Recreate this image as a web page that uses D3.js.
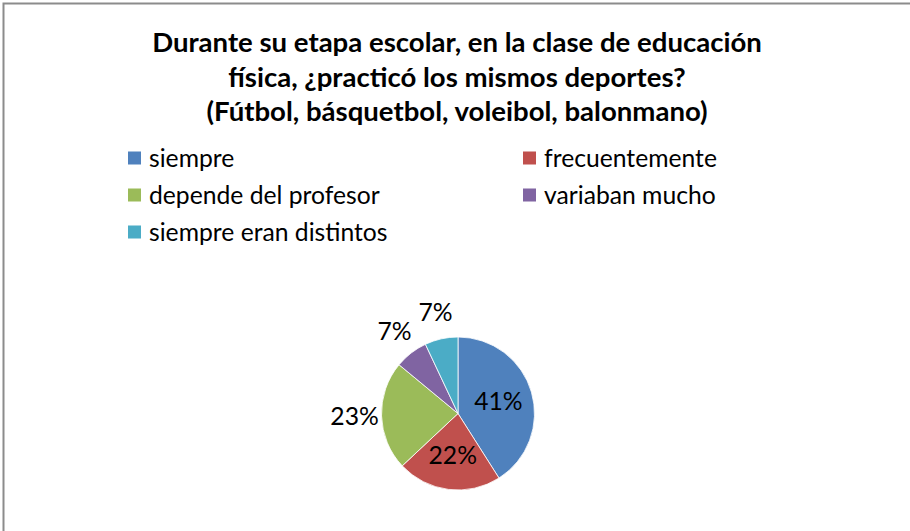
<!DOCTYPE html>
<html>
<head>
<meta charset="utf-8">
<script src="https://cdn.jsdelivr.net/npm/d3@7"></script>
<style>
  body { margin: 0; background: #fff; }
  svg text { font-family: Lato, "Open Sans", sans-serif; fill: #000; }
</style>
</head>
<body>
<svg width="910" height="531"></svg>
<script>
// data
var titleLines = ["Durante su etapa escolar, en la clase de educación",
                  "física, ¿practicó los mismos deportes?",
                  "(Fútbol, básquetbol, voleibol, balonmano)"];
var categories = ["siempre", "frecuentemente", "depende del profesor",
                  "variaban mucho", "siempre eran distintos"];
var values = [41, 22, 23, 7, 7];
var colors = ["#4F81BD", "#C0504D", "#9BBB59", "#8064A2", "#4BACC6"];
var outsideLabels = ["depende del profesor", "variaban mucho", "siempre eran distintos"];

var svg = d3.select("svg"),
    width = +svg.attr("width"),
    height = +svg.attr("height"),
    cx = 458, cy = 413.5, radius = 76.5;

// chart border (runs off the right and bottom edge like the screenshot)
svg.append("rect")
    .attr("x", 3.5).attr("y", 3.5)
    .attr("width", width + 10).attr("height", height + 10)
    .attr("fill", "none")
    .attr("stroke", "#8c8c8c")
    .attr("stroke-width", 2);

// fit a font size so that a text gets a given width
function fitSize(txt, target, weight) {
    var t = svg.append("text").style("font-size", "26px")
        .style("font-weight", weight).text(txt);
    var w = t.node().getComputedTextLength();
    t.remove();
    return 26 * target / w;
}
var titleSize = fitSize(titleLines[0], 610, "bold"),
    bodySize = fitSize("frecuentemente", 173, "normal");

// title
svg.append("g").selectAll("text")
    .data(titleLines)
    .enter().append("text")
    .attr("x", 457)
    .attr("y", function(d, i) { return 52 + i * 34.5; })
    .style("text-anchor", "middle")
    .style("font-weight", "bold")
    .style("font-size", titleSize + "px")
    .text(function(d) { return d; });

// legend, two columns
var legend = svg.selectAll(".legend")
    .data(categories)
    .enter().append("g")
    .attr("class", "legend")
    .attr("transform", function(d, i) {
        return "translate(" + (i % 2 ? 523 : 128) + "," + (158 + Math.floor(i / 2) * 37) + ")";
    });

legend.append("rect")
    .attr("y", -6.5)
    .attr("width", 13)
    .attr("height", 13)
    .style("fill", function(d, i) { return colors[i]; });

legend.append("text")
    .attr("x", 21)
    .attr("dy", ".36em")
    .style("font-size", bodySize + "px")
    .text(function(d) { return d; });

// pie
var pie = d3.pie().sort(null).value(function(d) { return d; });
var arc = d3.arc().innerRadius(0).outerRadius(radius),
    inArc = d3.arc().innerRadius(radius * 0.55).outerRadius(radius * 0.55),
    outArc = d3.arc().innerRadius(radius + 27).outerRadius(radius + 27);

var g = svg.append("g").attr("transform", "translate(" + cx + "," + cy + ")");

var slices = g.selectAll(".slice")
    .data(pie(values))
    .enter().append("g")
    .attr("class", "slice");

slices.append("path")
    .attr("d", arc)
    .attr("fill", function(d, i) { return colors[i]; })
    .attr("stroke", "#fff")
    .attr("stroke-width", 0.8);

slices.append("text")
    .attr("transform", function(d, i) {
        var a = outsideLabels.indexOf(categories[i]) >= 0 ? outArc : inArc;
        return "translate(" + a.centroid(d) + ")";
    })
    .attr("dy", ".35em")
    .style("text-anchor", "middle")
    .style("font-size", bodySize + "px")
    .text(function(d) { return d.data + "%"; });
</script>
</body>
</html>
